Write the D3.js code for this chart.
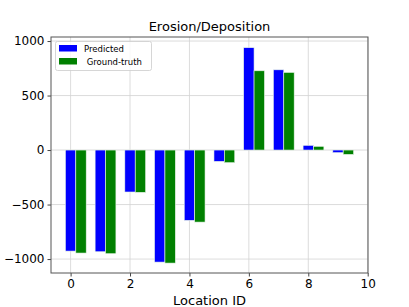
<!DOCTYPE html>
<html>
<head>
<meta charset="utf-8">
<script src="https://cdn.jsdelivr.net/npm/d3@7"></script>
<style>
  body { margin: 0; background: #fff; }
  text { font-family: "DejaVu Sans", sans-serif; }
</style>
</head>
<body>
<script>
var locations = [0, 1, 2, 3, 4, 5, 6, 7, 8, 9];
var predicted = [-927, -933, -385, -1028, -645, -104, 939, 736, 43, -24];
var groundTruth = [-945, -951, -388, -1037, -661, -116, 727, 712, 34, -40];
var xTicks = [0, 2, 4, 6, 8, 10];
var yTicks = [-1000, -500, 0, 500, 1000];

var width = 409, height = 307;
var margin = {top: 37, right: 41, bottom: 34, left: 51};
var barW = 0.35;

var svg = d3.select("body").append("svg")
  .attr("width", width)
  .attr("height", height);

var x = d3.scaleLinear().domain([-0.66, 10.01]).range([margin.left, width - margin.right]);
var y = d3.scaleLinear().domain([-1128, 1037]).range([height - margin.bottom, margin.top]);

// grid
svg.append("g").selectAll("line").data(xTicks).enter().append("line")
  .attr("x1", function(d) { return x(d); }).attr("x2", function(d) { return x(d); })
  .attr("y1", margin.top).attr("y2", height - margin.bottom)
  .attr("stroke", "#d3d3d3").attr("stroke-width", 0.8);
svg.append("g").selectAll("line").data(yTicks).enter().append("line")
  .attr("x1", margin.left).attr("x2", width - margin.right)
  .attr("y1", function(d) { return y(d); }).attr("y2", function(d) { return y(d); })
  .attr("stroke", "#d3d3d3").attr("stroke-width", 0.8);

// bars
function drawBars(vals, offset, color) {
  svg.append("g").selectAll("rect").data(vals).enter().append("rect")
    .attr("x", function(d, i) { return x(locations[i] + offset - barW / 2); })
    .attr("width", x(barW) - x(0))
    .attr("y", function(d) { return y(Math.max(0, d)); })
    .attr("height", function(d) { return Math.abs(y(d) - y(0)); })
    .attr("fill", color)
    .attr("stroke", "#e8f4e8").attr("stroke-width", 0.6);
}
drawBars(predicted, 0, "#0000ff");
drawBars(groundTruth, barW, "#008000");

// axes
var xAxis = svg.append("g")
  .attr("transform", "translate(0," + (height - margin.bottom) + ")")
  .call(d3.axisBottom(x).tickValues(xTicks).tickSize(3.5).tickPadding(3).tickFormat(d3.format("d")));
var yAxis = svg.append("g")
  .attr("transform", "translate(" + margin.left + ",0)")
  .call(d3.axisLeft(y).tickValues(yTicks).tickSize(3.5).tickPadding(3)
    .tickFormat(function(d) { return d < 0 ? "\u2212" + Math.abs(d) : d; }));
[xAxis, yAxis].forEach(function(a) {
  a.select(".domain").remove();
  a.selectAll("text").attr("font-size", 12).attr("fill", "#000")
    .style("font-family", "DejaVu Sans, sans-serif");
  a.selectAll("line").attr("stroke", "#444");
});

// frame
svg.append("rect")
  .attr("x", margin.left).attr("y", margin.top)
  .attr("width", width - margin.left - margin.right)
  .attr("height", height - margin.top - margin.bottom)
  .attr("fill", "none").attr("stroke", "#555").attr("stroke-width", 1);

// title and label
svg.append("text")
  .attr("x", (margin.left + width - margin.right) / 2).attr("y", 31)
  .attr("text-anchor", "middle").attr("font-size", 13)
  .text("Erosion/Deposition");
svg.append("text")
  .attr("x", (margin.left + width - margin.right) / 2).attr("y", 305)
  .attr("text-anchor", "middle").attr("font-size", 13)
  .text("Location ID");

// legend
var leg = svg.append("g");
leg.append("rect")
  .attr("x", 55.5).attr("y", 41.5).attr("width", 96).attr("height", 29)
  .attr("rx", 2).attr("fill", "#fff").attr("fill-opacity", 0.8)
  .attr("stroke", "#ccc").attr("stroke-width", 0.8);
var items = [["Predicted", "#0000ff"], [" Ground-truth", "#008000"]];
items.forEach(function(it, i) {
  leg.append("rect")
    .attr("x", 59).attr("y", 45 + i * 13).attr("width", 18).attr("height", 6.5)
    .attr("fill", it[1]);
  leg.append("text")
    .attr("x", 84).attr("y", 52 + i * 13).attr("font-size", 8.5)
    .attr("xml:space", "preserve").style("white-space", "pre")
    .text(it[0]);
});
</script>
</body>
</html>
